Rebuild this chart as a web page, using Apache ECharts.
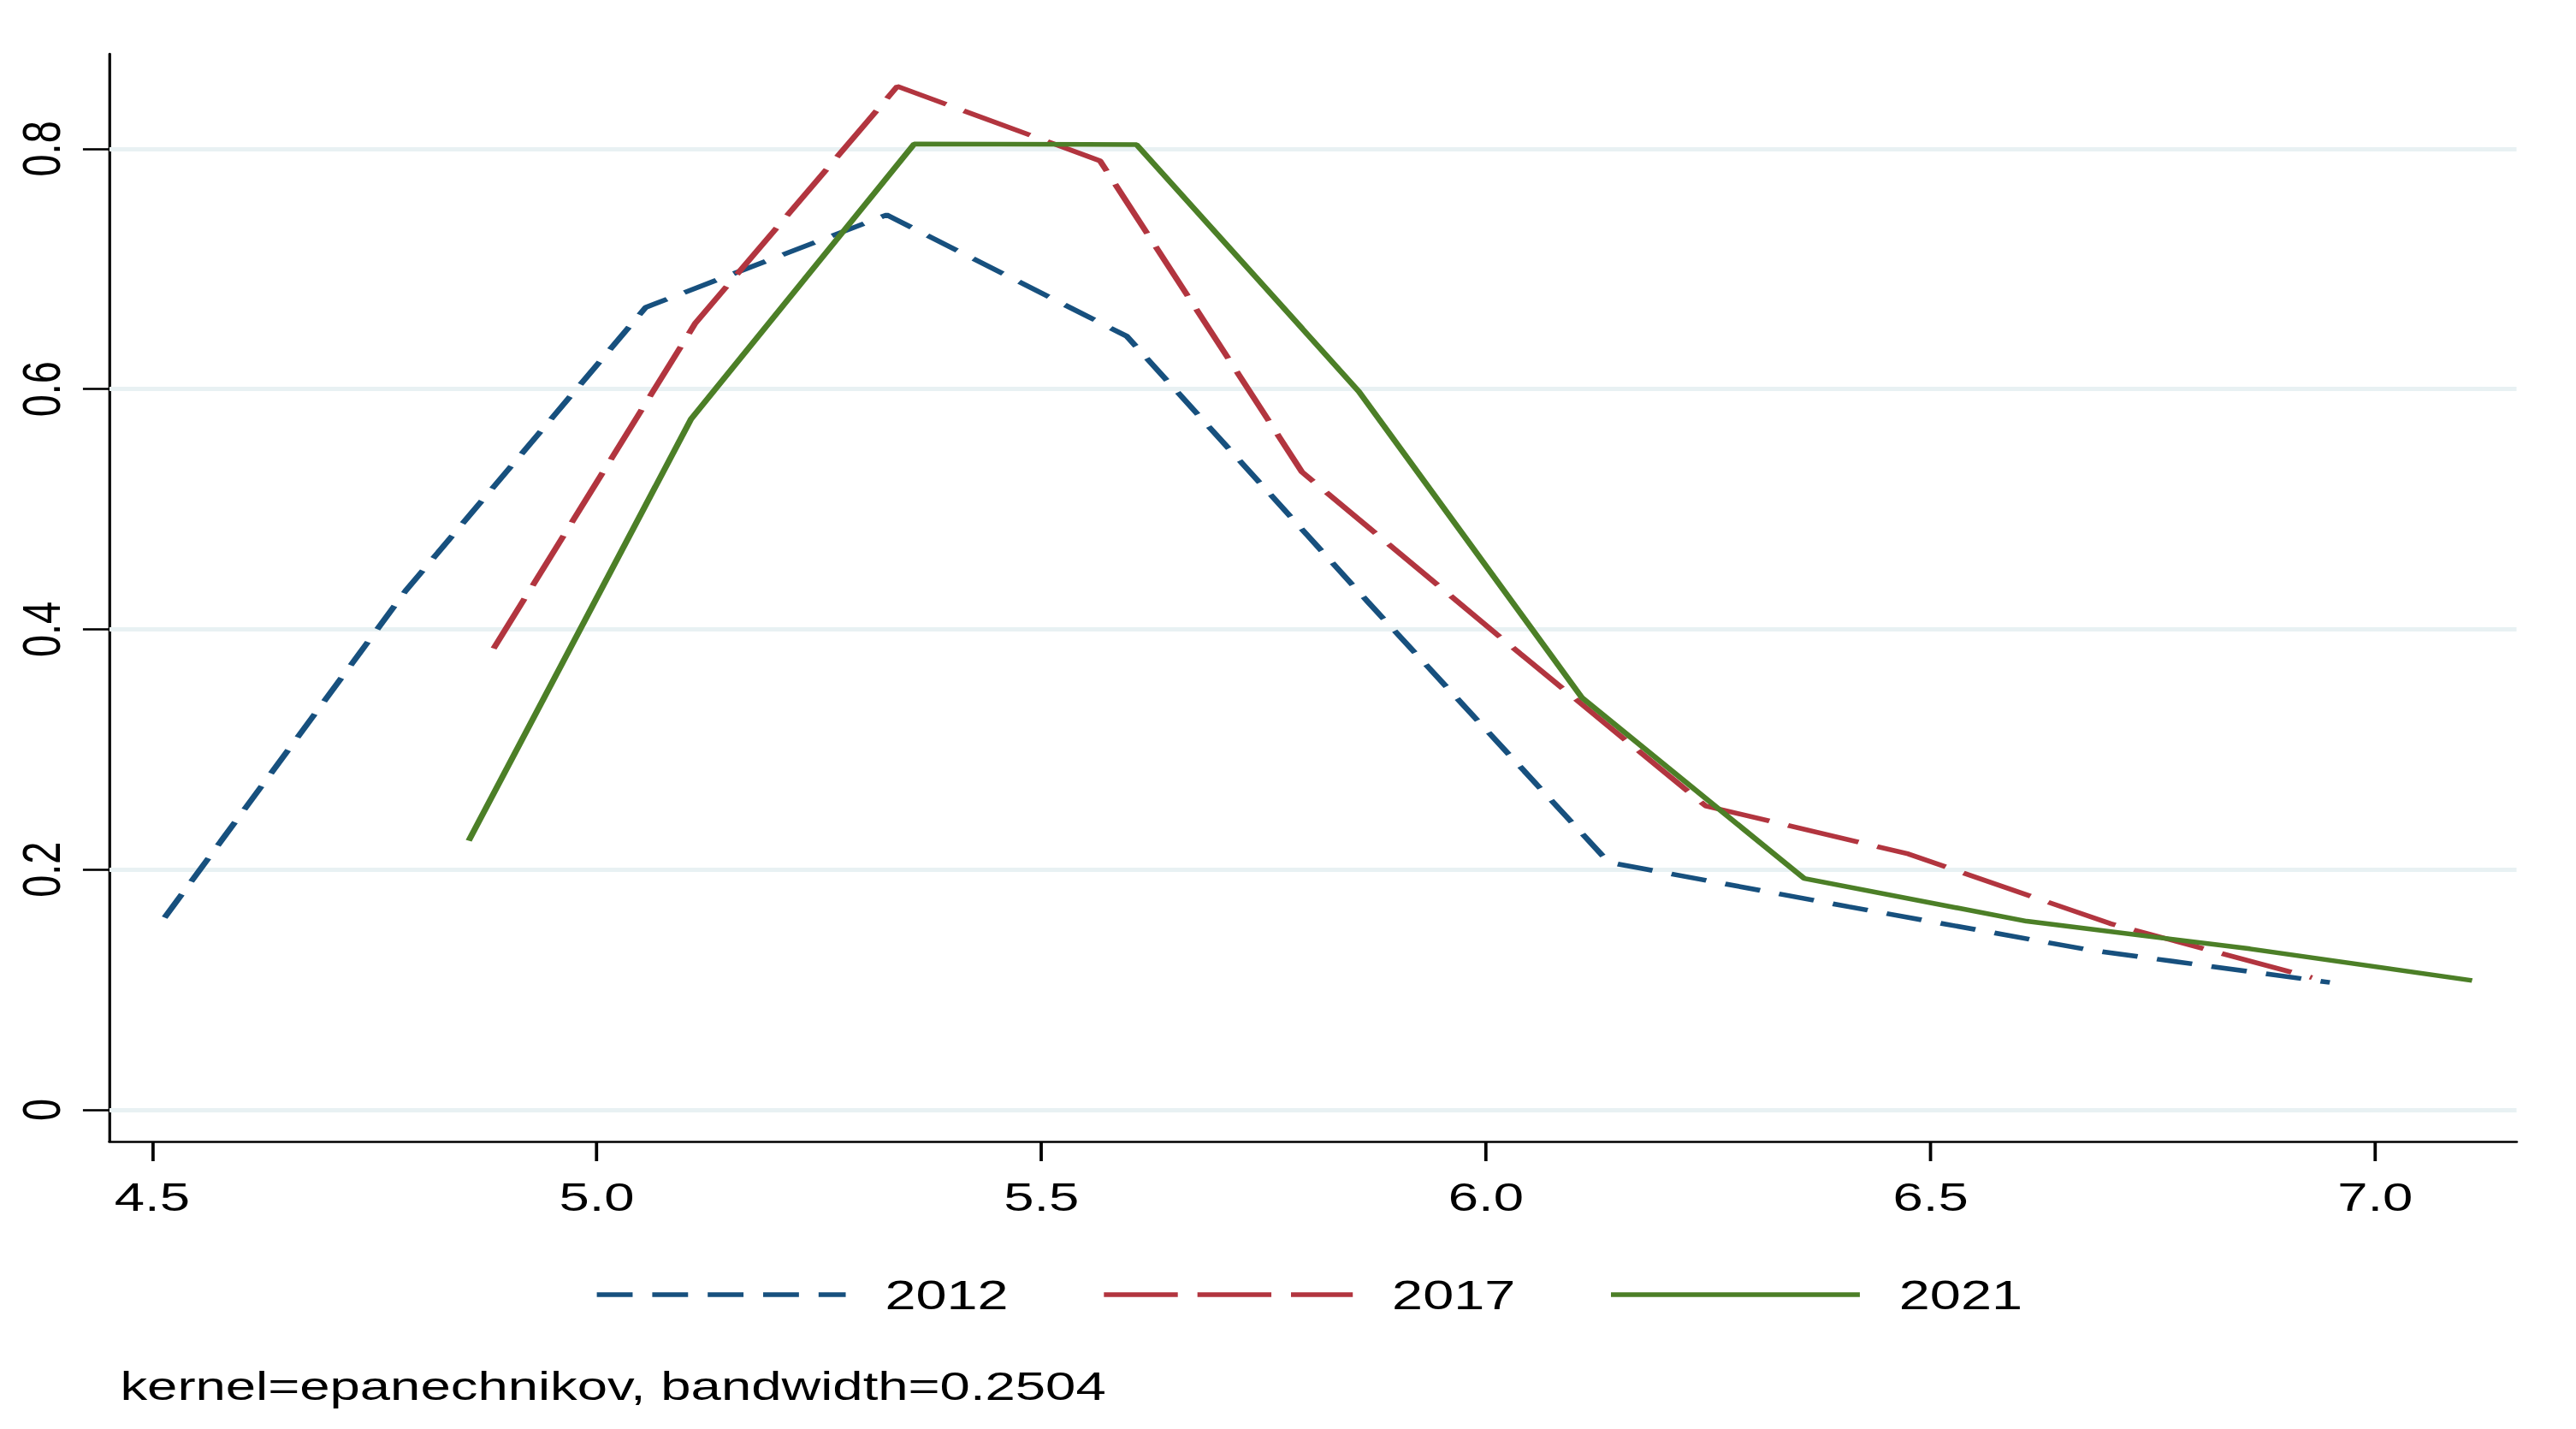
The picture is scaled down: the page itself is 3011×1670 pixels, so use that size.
<!DOCTYPE html>
<html>
<head>
<meta charset="utf-8">
<script src="https://cdn.jsdelivr.net/npm/echarts@6/dist/echarts.min.js"></script>
<style>
html,body{margin:0;padding:0;background:#fff;}
#wrap{width:3011px;height:1670px;overflow:hidden;background:#fff;}
#c{width:2230px;height:1670px;transform:scaleX(1.35);transform-origin:0 0;}
</style>
</head>
<body>
<div id="wrap"><div id="c"></div></div>
<script>
// Kernel density estimates
const x2012 = [4.514, 4.785, 5.055, 5.326, 5.596, 5.867, 6.138, 6.408, 6.679, 6.949];
const d2012 = [0.160, 0.432, 0.668, 0.745, 0.644, 0.423, 0.206, 0.169, 0.133, 0.106];
const x2017 = [4.884, 5.111, 5.338, 5.566, 5.793, 6.020, 6.247, 6.475, 6.702, 6.929];
const d2017 = [0.384, 0.655, 0.852, 0.790, 0.531, 0.391, 0.253, 0.213, 0.155, 0.110];
const x2021 = [4.856, 5.106, 5.357, 5.607, 5.857, 6.108, 6.358, 6.608, 6.859, 7.109];
const d2021 = [0.224, 0.575, 0.804, 0.8035, 0.598, 0.343, 0.1925, 0.157, 0.134, 0.1076];
const seriesNames = ['2012', '2017', '2021'];
const xTicks = [4.5, 5.0, 5.5, 6.0, 6.5, 7.0];
const yTicks = [0, 0.2, 0.4, 0.6, 0.8];
const noteText = 'kernel=epanechnikov, bandwidth=0.2504';

const FONT = "'Liberation Sans', Arial, sans-serif";
const pairs = (xs, ys) => xs.map((x, i) => [x, ys[i]]);
const C2012 = '#17507e', C2017 = '#b2353f', C2021 = '#4c7f27';

const chart = echarts.init(document.getElementById('c'), null, {renderer: 'svg'});
chart.setOption({
  animation: false,
  backgroundColor: '#ffffff',
  title: {
    text: noteText,
    left: 104, top: 1596, padding: 0,
    textStyle: {fontFamily: FONT, fontSize: 47, fontWeight: 'normal', color: '#000', lineHeight: 48}
  },
  legend: {
    data: seriesNames,
    left: 514, top: 1488, padding: 0,
    itemWidth: 215.5, itemHeight: 14, itemGap: 80,
    itemStyle: {opacity: 0},
    lineStyle: {width: 5.5},
    textStyle: {fontFamily: FONT, fontSize: 48, color: '#000', lineHeight: 50, padding: [0, 0, 0, 29]}
  },
  grid: {left: 94.8, right: 51.1, top: 63, bottom: 336},
  xAxis: {
    type: 'value', min: 4.452, max: 7.159,
    axisLine: {show: true, onZero: false, lineStyle: {color: '#000', width: 2.6}},
    axisTick: {show: true, length: 23, customValues: xTicks, lineStyle: {color: '#000', width: 2.8}},
    axisLabel: {customValues: xTicks, formatter: v => Number(v).toFixed(1), fontFamily: FONT, fontSize: 47, lineHeight: 47, margin: 41.5, color: '#000'},
    splitLine: {show: false}
  },
  yAxis: {
    type: 'value', min: -0.0264, max: 0.879,
    axisLine: {show: true, onZero: false, lineStyle: {color: '#000', width: 2.4}},
    axisTick: {show: true, length: 23, customValues: yTicks, lineStyle: {color: '#000', width: 2.6}},
    axisLabel: {customValues: yTicks, rotate: 90, formatter: v => String(Math.round(v * 10) / 10), fontFamily: FONT, fontSize: 47, lineHeight: 47, margin: 36, color: '#000'},
    splitLine: {show: false}
  },
  series: [
    {
      name: '_grid', type: 'line', data: [], silent: true, z: 1,
      markLine: {
        silent: true, z: 1, symbol: ['none', 'none'], label: {show: false},
        lineStyle: {color: '#e8f1f3', width: 5, type: 'solid'},
        emphasis: {disabled: true},
        data: yTicks.map(v => ({yAxis: v}))
      }
    },
    {
      name: seriesNames[0], type: 'line', data: pairs(x2012, d2012), symbol: 'none', z: 3,
      itemStyle: {color: C2012},
      lineStyle: {color: C2012, width: 5.5, type: [31, 17], cap: 'butt'}
    },
    {
      name: seriesNames[1], type: 'line', data: pairs(x2017, d2017), symbol: 'none', z: 3,
      itemStyle: {color: C2017},
      lineStyle: {color: C2017, width: 5.5, type: [64, 17], cap: 'butt'}
    },
    {
      name: seriesNames[2], type: 'line', data: pairs(x2021, d2021), symbol: 'none', z: 3,
      itemStyle: {color: C2021},
      lineStyle: {color: C2021, width: 5.5, type: 'solid'}
    }
  ]
});
</script>
</body>
</html>
